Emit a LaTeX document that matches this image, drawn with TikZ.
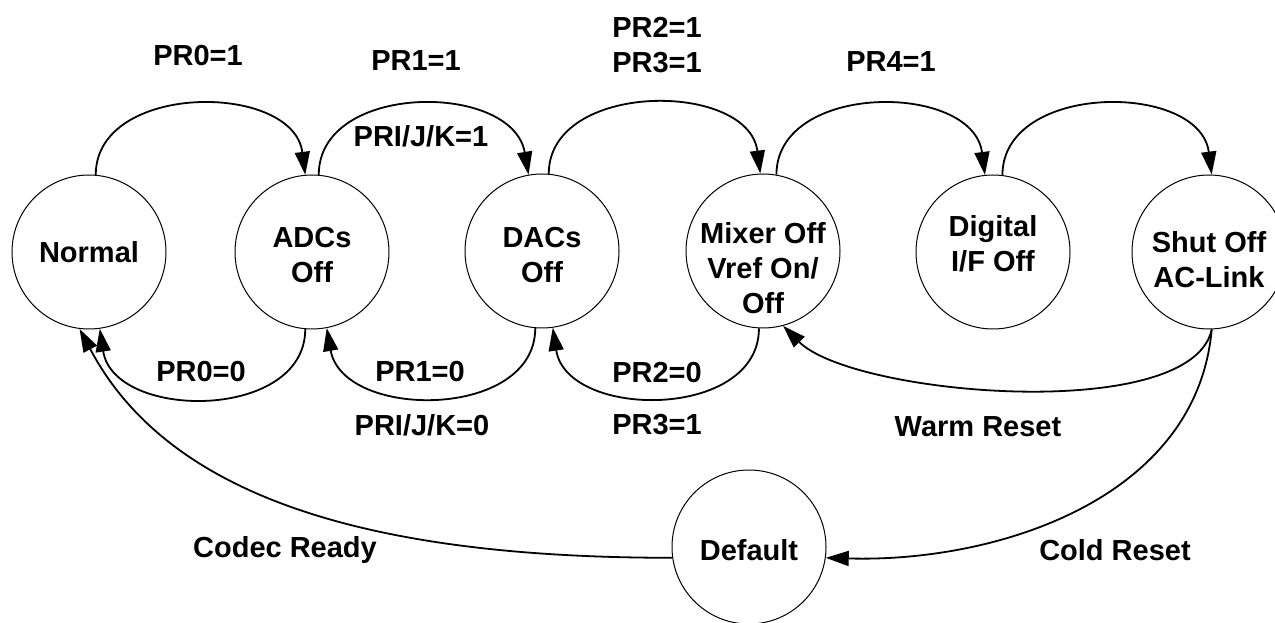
\documentclass[tikz,border=0pt]{standalone}
\usepackage{fontspec}
\setmainfont{Liberation Sans}
\usetikzlibrary{arrows.meta}
\tikzset{
  state/.style={draw, circle, line width=1pt, minimum size=154pt, inner sep=0pt},
  statetext/.style={font=\bfseries\fontsize{29}{35}\selectfont, align=center, inner sep=0pt},
  cond/.style={font=\bfseries\fontsize{29}{35}\selectfont, align=center, inner sep=0pt},
  trans/.style={line width=1.8pt, -{Triangle[length=23pt,width=15pt]}}
}
\newcommand{\drawtrans}{\draw[trans]}
% \statenode{name}{x}{y}{text shift}{text}
\newcommand{\statenode}[5]{
  \node[state] (#1) at (#2,#3) {};
  \node[statetext] (#1-t) at ([yshift=#4]#1.center) {#5};
}

\begin{document}
\begin{tikzpicture}[x=1pt,y=1pt]
\useasboundingbox (0,0) rectangle (1275,622);
% states
\statenode{normal}{89}{370}{0pt}{Normal}
\statenode{adcs}{312}{370}{-3pt}{ADCs\\Off}
\statenode{dacs}{542}{371}{-4pt}{DACs\\Off}
\statenode{mixer}{763}{371}{-17pt}{Mixer Off\\Vref On/\\Off}
\statenode{digital}{993}{370}{8pt}{Digital\\I/F Off}
\statenode{shut}{1209}{370}{-8pt}{Shut Off\\AC-Link}
\statenode{dflt}{749}{75}{-3pt}{Default}
% power down
\drawtrans (normal.85) .. controls +(0,93) and +(-12,93) .. (adcs.95);
\drawtrans (adcs.85) .. controls +(0,93) and +(-16,93) .. (dacs.100);
\drawtrans (dacs.85) .. controls +(0,93) and +(-12,93) .. (mixer.92);
\drawtrans (mixer.80) .. controls +(0,93) and +(-12,93) .. (digital.96);
\drawtrans (digital.83) .. controls +(0,93) and +(-12,93) .. (shut.88);
% power up
\drawtrans (adcs.265) .. controls +(0,-92) and +(14,-92) .. (normal.278);
\drawtrans (dacs.265) .. controls +(0,-92) and +(16,-92) .. (adcs.281);
\drawtrans (mixer.267) .. controls +(0,-92) and +(14,-92) .. (dacs.278);
% resets
\drawtrans (shut.272) .. controls +(-20,-95) and +(70,-70) .. (mixer.285);
\drawtrans (shut.272) .. controls +(-15,-170) and +(170,-5) .. (dflt.352);
\drawtrans (dflt.188) .. controls +(-300,0) and +(90,-170) .. (normal.263);
% conditions
\node[cond] (c01) at (198,566) {PR0=1};
\node[cond] (c11) at (416,561) {PR1=1};
\node[cond] (c21) at (657,577) {PR2=1\\PR3=1};
\node[cond] (c41) at (891,560) {PR4=1};
\node[cond] (cijk1) at (421,486) {PRI/J/K=1};
\node[cond] (c00) at (201,250) {PR0=0};
\node[cond] (c10) at (420,250) {PR1=0};
\node[cond] (c20) at (657,249) {PR2=0};
\node[cond] (cijk0) at (422,197) {PRI/J/K=0};
\node[cond] (c31) at (657,197) {PR3=1};
\node[cond] (warm) at (978,195) {Warm Reset};
\node[cond] (codec) at (285,72) {Codec Ready};
\node[cond] (cold) at (1115,72) {Cold Reset};
\end{tikzpicture}
\end{document}
